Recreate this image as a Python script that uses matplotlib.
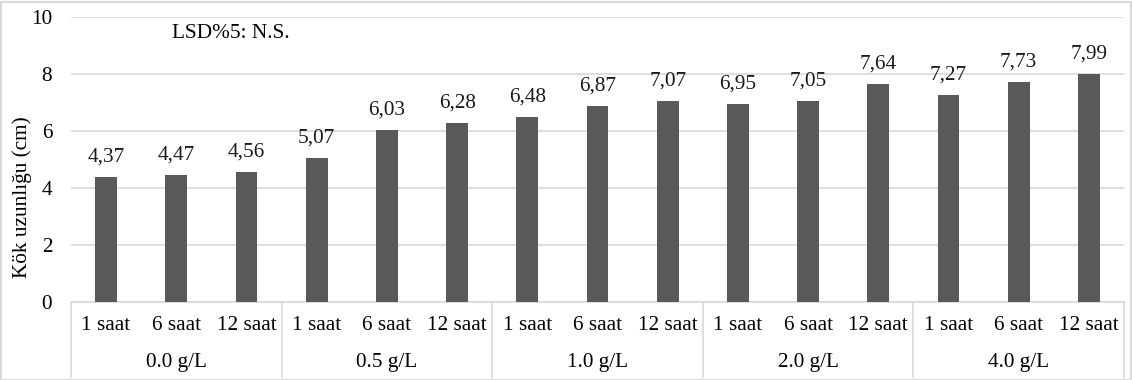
import matplotlib
matplotlib.use("Agg")
import matplotlib.pyplot as plt
from matplotlib.patches import Rectangle
from matplotlib.transforms import blended_transform_factory

plt.rcParams['font.family'] = ['Liberation Serif', 'DejaVu Serif']

groups = ["0.0 g/L", "0.5 g/L", "1.0 g/L", "2.0 g/L", "4.0 g/L"]
durations = ["1 saat", "6 saat", "12 saat"]
values = [4.37, 4.47, 4.56,
          5.07, 6.03, 6.28,
          6.48, 6.87, 7.07,
          6.95, 7.05, 7.64,
          7.27, 7.73, 7.99]
value_labels = ["4,37", "4,47", "4,56",
                "5,07", "6,03", "6,28",
                "6,48", "6,87", "7,07",
                "6,95", "7,05", "7,64",
                "7,27", "7,73", "7,99"]
y_ticks = [0, 2, 4, 6, 8, 10]

W, H = 1132, 380
fig = plt.figure(figsize=(W / 100, H / 100), dpi=100)
ax_left, ax_right, ax_top, ax_bot = 71, 1124, 17, 302
ax = fig.add_axes([ax_left / W, 1 - ax_bot / H, (ax_right - ax_left) / W, (ax_bot - ax_top) / H])

grid_c = "#d9d9d9"
bar_c = "#595959"
fs = 15.3

x = list(range(len(values)))
ax.bar(x, values, width=0.31, color=bar_c, zorder=3)
for xi, v, lab in zip(x, values, value_labels):
    ax.annotate(lab, (xi, v), xytext=(0, 7.5), textcoords="offset points",
                ha="center", va="bottom", fontsize=fs, color="#1a1a1a")

ax.set_xlim(-0.5, len(values) - 0.5)
ax.set_ylim(0, 10)
ax.set_yticks(y_ticks)
ax.set_yticklabels([str(t) for t in y_ticks], fontsize=fs)
ax.tick_params(axis="y", length=0, pad=13.5)
ax.set_xticks([])
ax.yaxis.grid(True, color=grid_c, linewidth=1.2, zorder=0)
for s in ["top", "right", "left"]:
    ax.spines[s].set_visible(False)
ax.spines["bottom"].set_color(grid_c)
ax.spines["bottom"].set_linewidth(1.2)

fig.text(22 / W, 1 - 197 / H, "Kök uzunlığu (cm)", rotation=90,
         ha="center", va="center", fontsize=fs)

# multi-level category axis
trans = blended_transform_factory(ax.transData, ax.transAxes)
axh = ax_bot - ax_top
bottom_frac = -(377 - ax_bot) / axh
row1 = -(326 - ax_bot) / axh
row2 = -(362 - ax_bot) / axh
n_per = len(durations)
for gi, g in enumerate(groups):
    for di, d in enumerate(durations):
        xi = gi * n_per + di
        ax.text(xi, row1, d, transform=trans, ha="center", va="center", fontsize=fs)
    ax.text(gi * n_per + (n_per - 1) / 2, row2, g, transform=trans,
            ha="center", va="center", fontsize=fs)
for b in range(len(groups) + 1):
    xb = b * n_per - 0.5
    ax.plot([xb, xb], [0, bottom_frac], transform=trans, color=grid_c,
            linewidth=1.2, clip_on=False)

ax.text(172 / W, 1 - 33 / H, "LSD%5: N.S.", transform=fig.transFigure,
        ha="left", va="center", fontsize=fs)

fig.patches.append(Rectangle((0.5 / W, 0.5 / H), 1 - 2 / W, 1 - 2 / H,
                             transform=fig.transFigure, fill=False,
                             edgecolor=grid_c, linewidth=1.5))

fig.savefig("out.png", dpi=100)
